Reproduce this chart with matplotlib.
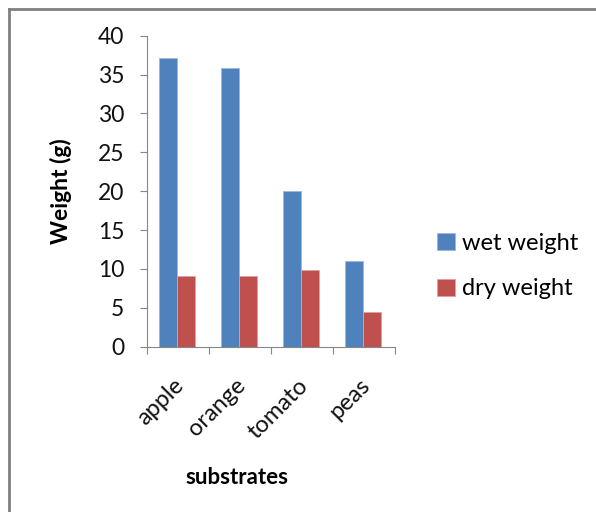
import matplotlib.pyplot as plt
import numpy as np

substrates = ["apple", "orange", "tomato", "peas"]
wet_weight = [37.1, 35.9, 20.0, 11.0]
dry_weight = [9.1, 9.1, 9.9, 4.5]

plt.rcParams['font.family'] = ['Lato', 'DejaVu Sans']

fig = plt.figure(figsize=(5.96, 5.12), dpi=100)
ax = fig.add_axes([146.7 / 596, 1 - 346.7 / 512, (395 - 146.7) / 596, (346.7 - 35.7) / 512])

x = np.arange(len(substrates))
w = 0.29
b1 = ax.bar(x - w / 2 - 0.015, wet_weight, w, color='#4F81BD', edgecolor='#9DB6DA', linewidth=0.6, label='wet weight')
b2 = ax.bar(x + w / 2 - 0.015, dry_weight, w, color='#C0504D', edgecolor='#DDA09E', linewidth=0.6, label='dry weight')

ax.set_xlim(-0.5, len(substrates) - 0.5)
ax.set_ylim(0, 40)
ax.set_yticks(range(0, 41, 5))
ax.tick_params(axis='y', labelsize=16.5, length=5, color='#868686', labelcolor='#111111', pad=11)

# category boundaries carry the tick marks, names sit in between
ax.set_xticks(np.arange(-0.5, len(substrates), 1.0))
ax.set_xticklabels([])
ax.tick_params(axis='x', length=5, color='#868686')
for i, name in enumerate(substrates):
    ax.text(i - 0.08, -3.6, name, rotation=45, ha='right', va='top', rotation_mode='anchor',
            fontsize=17, color='#111111')

for s in ['top', 'right']:
    ax.spines[s].set_visible(False)
for s in ['left', 'bottom']:
    ax.spines[s].set_color('#868686')

fig.text(61 / 596, 1 - 191 / 512, "Weight (g)", rotation=90, ha='center', va='center',
         fontsize=16.5, fontweight='bold')
fig.text(237 / 596, 1 - 477 / 512, "substrates", ha='center', va='center',
         fontsize=16, fontweight='bold')

fig.legend(handles=[b1, b2], loc='center left', bbox_to_anchor=(416 / 596, 1 - 266 / 512),
           frameon=False, fontsize=17, handlelength=0.75, handleheight=0.75,
           handletextpad=0.3, labelspacing=1.05)

# outer chart border (only left and top are visible in the crop)
fig.add_artist(plt.Line2D([9 / 596, 9 / 596], [0, 1 - 9 / 512], color='#808080', lw=2,
                          transform=fig.transFigure))
fig.add_artist(plt.Line2D([9 / 596, 1], [1 - 9 / 512, 1 - 9 / 512], color='#808080', lw=2,
                          transform=fig.transFigure))

fig.savefig("out.png", dpi=100)
